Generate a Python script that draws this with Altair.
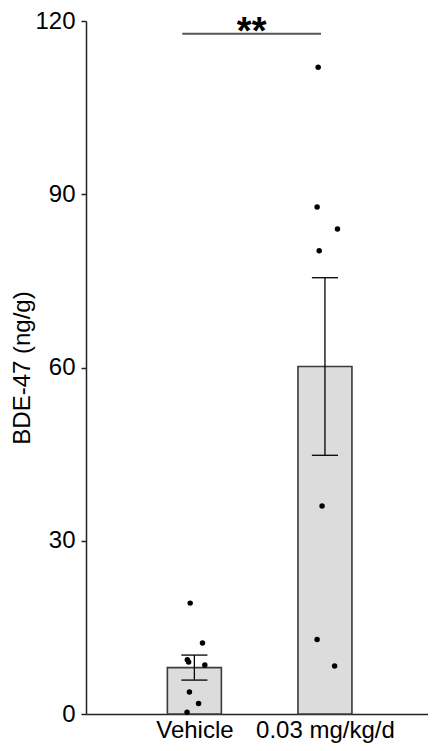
import altair as alt
import pandas as pd
import numpy as np

# ---- data ----
groups = ["Vehicle", "0.03 mg/kg/d"]
group_pos = [1, 2]
vehicle_vals = [19.2, 12.3, 9.4, 9.0, 8.5, 3.8, 1.8, 0.3]
vehicle_jitter = [-0.16, 0.31, -0.27, -0.22, 0.40, -0.19, 0.16, -0.28]
treated_vals = [112.0, 87.8, 84.0, 80.2, 36.0, 12.9, 8.3]
treated_jitter = [-0.26, -0.30, 0.48, -0.22, -0.11, -0.30, 0.37]
y_ticks = [0, 30, 60, 90, 120]
sig_label = "**"
sig_level = 117.8
sig_from = 0.907
sig_to = 1.97

JIT = 0.2  # half bar width in x units

pts = pd.DataFrame({
    "group": [groups[0]] * len(vehicle_vals) + [groups[1]] * len(treated_vals),
    "value": vehicle_vals + treated_vals,
    "xpos": [group_pos[0] + j * JIT for j in vehicle_jitter]
            + [group_pos[1] + j * JIT for j in treated_jitter],
})

summ = []
for g, p, vals in [(groups[0], group_pos[0], vehicle_vals), (groups[1], group_pos[1], treated_vals)]:
    a = np.array(vals)
    m = a.mean()
    se = a.std(ddof=1) / np.sqrt(len(a))
    summ.append({"group": g, "pos": p, "mean": m, "lo": m - se, "hi": m + se,
                 "capl": p - 0.1, "capr": p + 0.1})
summ = pd.DataFrame(summ)

xscale = alt.Scale(domain=[0.2082, 2.751], nice=False, zero=False)
yscale = alt.Scale(domain=[0, 120], nice=False)

label_expr = "datum.value == 1 ? '%s' : (datum.value == 2 ? '%s' : '')" % (groups[0], groups[1])

xaxis = alt.Axis(values=group_pos, labelExpr=label_expr, title=None, ticks=False,
                 grid=False, labelFontSize=24, labelPadding=4, labelColor="black",
                 domainColor="#222", domainWidth=1.5)
yaxis = alt.Axis(values=y_ticks, title="BDE-47 (ng/g)", grid=False, tickSize=5,
                 tickColor="#222", tickWidth=1.5, domainColor="#222", domainWidth=1.5,
                 labelFontSize=24, labelPadding=6, labelColor="black",
                 titleFontSize=24, titleFontWeight="normal", titlePadding=0, titleColor="black")

bars = alt.Chart(summ).mark_bar(size=54, color="#dcdcdc", stroke="#3a3a3a", strokeWidth=1.6).encode(
    x=alt.X("pos:Q", scale=xscale, axis=xaxis),
    y=alt.Y("mean:Q", scale=yscale, axis=yaxis),
    y2=alt.datum(0),
)

err = alt.Chart(summ).mark_rule(color="black", strokeWidth=1.3).encode(
    x="pos:Q", y="lo:Q", y2="hi:Q")
cap_hi = alt.Chart(summ).mark_rule(color="black", strokeWidth=1.3).encode(
    x="capl:Q", x2="capr:Q", y="hi:Q")
cap_lo = alt.Chart(summ).mark_rule(color="black", strokeWidth=1.3).encode(
    x="capl:Q", x2="capr:Q", y="lo:Q")

points = alt.Chart(pts).mark_circle(size=30, color="black", opacity=1).encode(
    x="xpos:Q", y="value:Q")

sig = pd.DataFrame({"x1": [sig_from], "x2": [sig_to], "y": [sig_level],
                    "xm": [(sig_from + sig_to) / 2], "ytop": [120], "label": [sig_label]})
bracket = alt.Chart(sig).mark_rule(color="#555", strokeWidth=2).encode(
    x="x1:Q", x2="x2:Q", y="y:Q")
stars = alt.Chart(sig).mark_text(fontSize=38, fontWeight="bold", baseline="top",
                                 align="center", dy=-7, color="black").encode(
    x="xm:Q", y="ytop:Q", text="label:N")

chart = alt.layer(bars, err, cap_hi, cap_lo, points, bracket, stars).properties(
    width=342, height=693,
    autosize=alt.AutoSizeParams(type="none"),
    padding={"left": 78, "top": 13, "right": 0, "bottom": 29},
).configure(
    font="Liberation Sans, Arial, sans-serif", background="white"
).configure_view(stroke=None)

chart.save("out.html", embed_options={"renderer": "svg", "actions": False})
